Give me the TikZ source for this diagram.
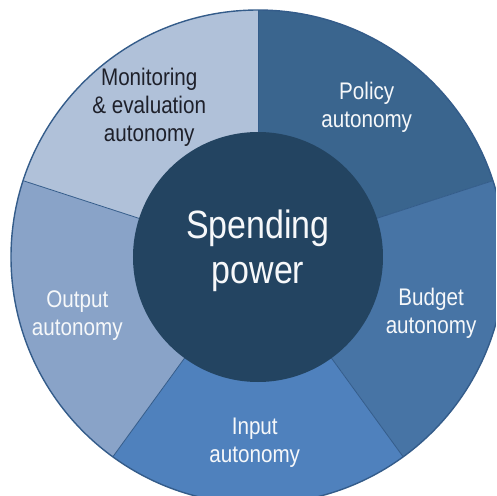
\documentclass[tikz,border=0pt]{standalone}
\usepackage{fontspec}
\setmainfont[FakeStretch=0.86]{Liberation Sans}
\usetikzlibrary{shapes.geometric}
\definecolor{policycolor}{RGB}{58, 101, 142}
\definecolor{budgetcolor}{RGB}{71, 116, 165}
\definecolor{inputcolor}{RGB}{79, 129, 189}
\definecolor{outputcolor}{RGB}{137, 163, 200}
\definecolor{monitorcolor}{RGB}{176, 193, 217}
\definecolor{corecolor}{RGB}{35, 68, 97}
\definecolor{rimcolor}{RGB}{52, 92, 138}
\definecolor{labelwhite}{RGB}{246, 248, 250}
\definecolor{labeldark}{RGB}{30, 32, 42}
\tikzset{
slicetext/.style={
  align=center,
  font=\fontsize{24}{28}\selectfont,
  text=labelwhite
},
darktext/.style={
  slicetext,
  text=labeldark
},
core/.style={
  circle,
  fill=corecolor,
  minimum size=250pt,
  inner sep=0pt
},
coretext/.style={
  align=center,
  font=\fontsize{39.5}{45}\selectfont,
  text=labelwhite
},
separator/.style={
  draw=rimcolor,
  line width=0.8pt
},
rim/.style={
  draw=rimcolor,
  line width=1.4pt
}
}

\begin{document}
\begin{tikzpicture}[x=1pt, y=1pt]
  \useasboundingbox (-258,-239) rectangle (238,257);
  \clip (-258,-239) rectangle (238,257);
  % ring segments
  \foreach \from/\to/\col in {18/90/policycolor, -54/18/budgetcolor, -126/-54/inputcolor, 162/234/outputcolor, 90/162/monitorcolor}
    \fill[\col] (0,0) -- (\from:247) arc[start angle=\from, end angle=\to, radius=247] -- cycle;
  \foreach \ang in {90, 18, -54, -126, 162}
    \draw[separator] (\ang:120) -- (\ang:247);
  \draw[rim] (0,0) circle[radius=247];
  % centre
  \node[core] (hub) at (0,0) {};
  \node[coretext] (spend) at (0,6) {Spending\\power};
  % labels
  \node[slicetext] (policy) at (54:185) {Policy\\autonomy};
  \node[slicetext] (budget) at (-18:182) {Budget\\autonomy};
  \node[slicetext] (input) at (-91:186) {Input\\autonomy};
  \node[slicetext] (output) at (198:190) {Output\\autonomy};
  \node[darktext] (monitor) at (126:185) {Monitoring\\\& evaluation\\autonomy};
\end{tikzpicture}
\end{document}
